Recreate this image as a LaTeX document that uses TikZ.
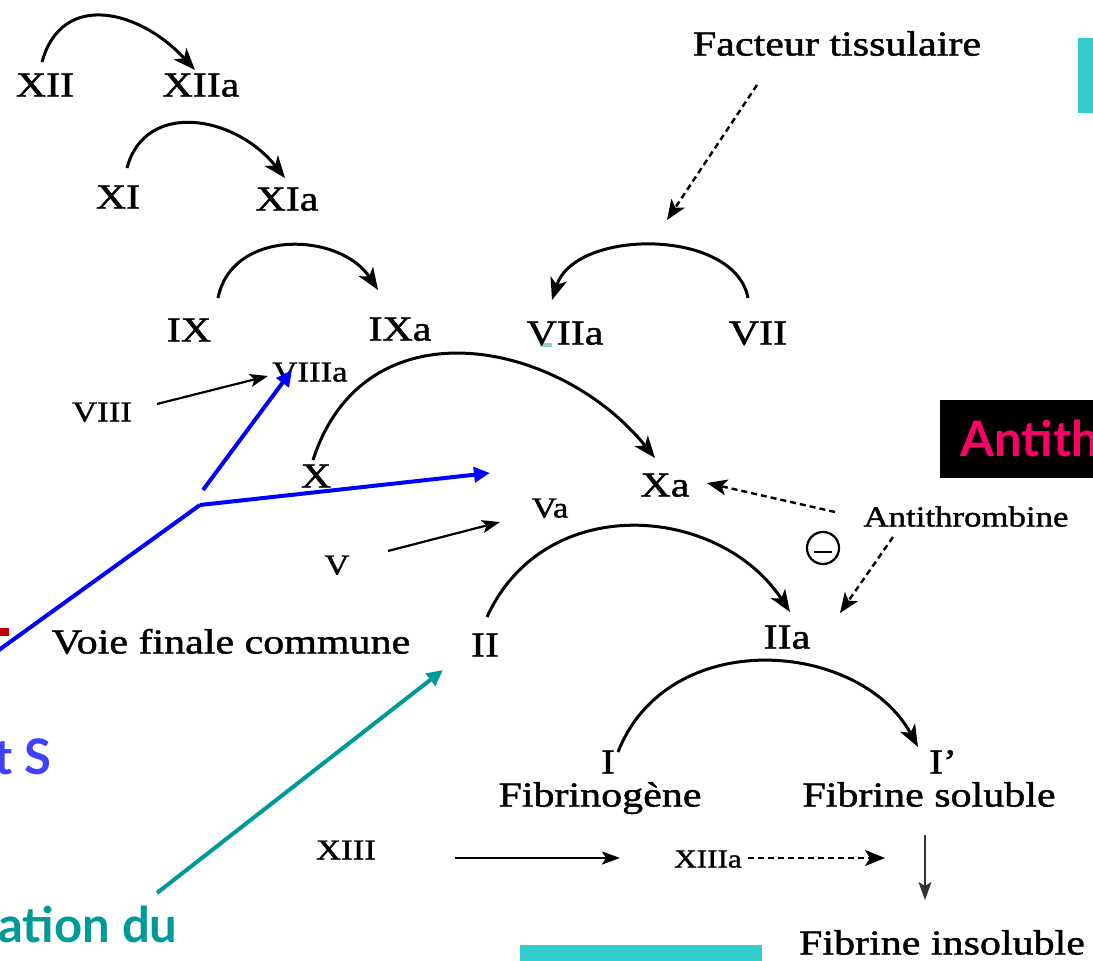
\documentclass[tikz,border=0pt]{standalone}
\usepackage{fontspec}
\setmainfont{Liberation Serif}[FakeStretch=1.2, FakeBold=1.3]
\newfontfamily\slidefont{Lato}
\usetikzlibrary{arrows.meta,calc}

\definecolor{slideblue}{RGB}{0,0,255}
\definecolor{slidecyan}{RGB}{51,204,204}
\definecolor{slideteal}{RGB}{0,153,153}
\definecolor{slidemagenta}{RGB}{255,0,102}
\definecolor{slidered}{RGB}{192,0,0}
\definecolor{slideviolet}{RGB}{64,64,255}
\definecolor{palecyan}{RGB}{153,204,204}

\begin{document}
\begin{tikzpicture}[x=1pt,y=-1pt,
  lbl/.style={inner sep=0pt, text height=23pt, text depth=0pt,
              font=\fontsize{35}{40}\selectfont},
  lbls/.style={inner sep=0pt, text height=19pt, text depth=0pt,
               font=\fontsize{29}{34}\selectfont},
  arc/.style={line width=3pt, -{Stealth[length=22pt,width=17pt,inset=6pt]}},
  dsh/.style={line width=2.4pt, dash pattern=on 6pt off 4pt,
              -{Stealth[length=20pt,width=16pt,inset=5pt]}},
  plain/.style={line width=2.2pt, -{Stealth[length=18pt,width=13pt,inset=4pt]}},
  bluearrow/.style={draw=slideblue, line width=4pt,
                    -{Triangle[length=16pt,width=15pt]}},
]
\clip (0,0) rectangle (1093,961);
\fill[white] (0,0) rectangle (1093,961);

% coloured slide elements
\fill[slidecyan] (1078,38) rectangle (1093,113);
\fill[slidecyan] (520,945) rectangle (762,961);
\fill[palecyan] (540,343) rectangle (552,347);
\fill[slidered] (0,628) rectangle (9,636);
\fill[black] (940,400) rectangle (1100,478);
\node[anchor=base west, inner sep=0pt, text=slidemagenta,
      font=\slidefont\bfseries\fontsize{49}{54}\selectfont] (antibox) at (960,456) {Antithrombine};
\node[anchor=base west, inner sep=0pt, text=slideviolet,
      font=\slidefont\bfseries\fontsize{49}{54}\selectfont] (ts) at (-6,774) {t S};
\node[anchor=base west, inner sep=0pt, text=slideteal,
      font=\slidefont\bfseries\fontsize{49}{54}\selectfont] (ation) at (-2,942) {ation du};

% factors
\node[lbl] (XII) at (45,85) {XII};
\node[lbl] (XIIa) at (201,85) {XIIa};
\node[lbl] (XI) at (118,197) {XI};
\node[lbl] (XIa) at (287,199) {XIa};
\node[lbl] (IX) at (189,330) {IX};
\node[lbl] (IXa) at (400,329) {IXa};
\node[lbl] (VIIa) at (565,333) {VIIa};
\node[lbl] (VII) at (758,333) {VII};
\node[lbl] (FT) at (837,44) {Facteur tissulaire};
\node[lbls] (VIIIa) at (310,372) {VIIIa};
\node[lbls] (VIII) at (102,412) {VIII};
\node[lbl] (X) at (316,476) {X};
\node[lbl] (Xa) at (665,485) {Xa};
\node[lbls] (Va) at (550,508) {Va};
\node[lbls] (V) at (337,565) {V};
\node[lbls] (AT) at (966,517) {Antithrombine};
\node[draw, circle, line width=2.2pt, minimum size=32pt, inner sep=0pt] (minus) at (823,548) {};
\draw[line width=2.2pt] ($(minus)+(-9,4)$) -- ($(minus)+(9,4)$);
\node[lbl] (II) at (485,645) {II};
\node[lbl] (IIa) at (787,637) {IIa};
\node[lbl] (VFC) at (231,642) {Voie finale commune};
\node[lbl] (I) at (608,762) {I};
\node[lbl] (Ip) at (943,762) {I'};
\node[lbl] (Fg) at (600,795) {Fibrinogène};
\node[lbl] (Fs) at (929,795) {Fibrine soluble};
\node[lbls] (XIII) at (346,850) {XIII};
\node[lbls, font=\fontsize{26}{30}\selectfont] (XIIIa) at (708,858) {XIIIa};
\node[lbl] (Fi) at (942,943) {Fibrine insoluble};

% activation arcs
\draw[arc] ($(XII)+(-3,-23)$) .. controls (62,-10) and (140,10) .. ($(XIIa)+(-6,-15)$);
\draw[arc] ($(XI)+(9,-29)$) .. controls (145,100) and (235,115) .. ($(XIa)+(-2,-21)$);
\draw[arc] ($(IX)+(29,-32)$) .. controls (232,228) and (340,232) .. ($(IXa)+(-22,-39)$);
\draw[arc] ($(VII)+(-10,-35)$) .. controls (735,228) and (575,228) .. ($(VIIa)+(-13,-33)$);
\draw[arc] ($(X)+(-3,-16)$) .. controls (365,300) and (560,340) .. ($(Xa)+(-10,-27)$);
\draw[arc] ($(II)+(2,-28)$) .. controls (545,490) and (720,505) .. ($(IIa)+(3,-25)$);
\draw[arc] ($(I)+(10,-10)$) .. controls (668,625) and (860,640) .. ($(Ip)+(-25,-15)$);

% other reactions
\draw[dsh] ($(FT)+(-80,41)$) -- ($(VIIa)+(102,-113)$);
\draw[plain] ($(VIII)+(55,-8)$) -- ($(VIIIa)+(-42,4)$);
\draw[plain] ($(V)+(51,-14)$) -- ($(Va)+(-50,14)$);
\draw[dsh] ($(AT)+(-131,-5)$) -- ($(Xa)+(42,-2)$);
\draw[dsh] ($(AT)+(-73,20)$) -- ($(IIa)+(53,-24)$);
\draw[plain] ($(XIII)+(109,8)$) -- ($(XIIIa)+(-88,0)$);
\draw[dsh] ($(XIIIa)+(40,0)$) -- ($(XIIIa)+(177,0)$);
\draw[plain, line width=1.6pt, draw=black!80] ($(Fs)+(-4,40)$) -- ($(Fi)+(-17,-43)$);

% slide pointers
\coordinate (hub) at (200,505);
\coordinate (blueend) at (-8,655);
\coordinate (tealend) at (157,893);
\draw[draw=slideblue, line width=4pt] (blueend) -- (hub);
\draw[bluearrow] (hub) -- ($(Va)+(-60,-35)$);
\draw[bluearrow] ($(hub)+(3,-15)$) -- ($(VIIIa)+(-18,-2)$);
\draw[draw=slideteal, line width=4pt, -{Triangle[length=16pt,width=15pt]}] (tealend) -- ($(II)+(-42,25)$);
\end{tikzpicture}
\end{document}
